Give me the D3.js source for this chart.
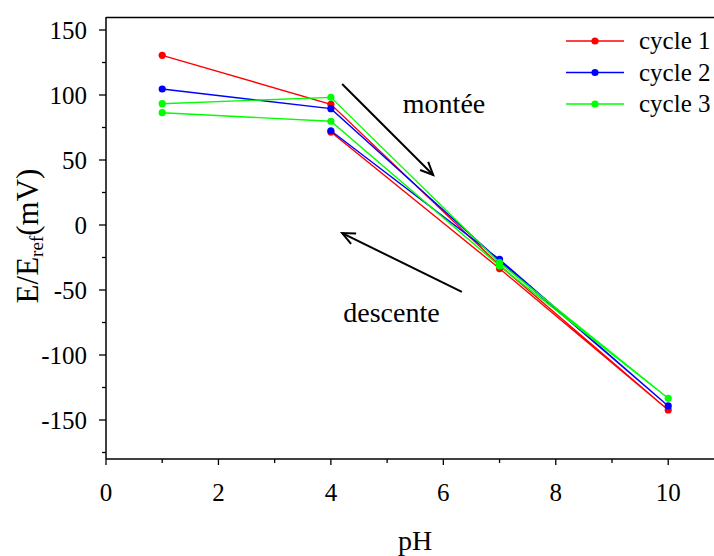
<!DOCTYPE html>
<html><head><meta charset="utf-8">
<script src="https://cdn.jsdelivr.net/npm/d3@7"></script>
<style>
html,body{margin:0;padding:0;background:#fff;}
</style></head>
<body>
<svg id="c" width="714" height="556"></svg>
<script>
// ---- data ----
const seriesNames = ["cycle 1", "cycle 2", "cycle 3"];
const seriesColors = ["#ff0000", "#0000ff", "#00ff00"];
// measurement path: pH up then back down
const cycle1_pH = [1, 4, 7, 10, 7, 4];
const cycle1_E  = [130.5, 92.8, -31, -142.3, -33.5, 71.5];
const cycle2_pH = [1, 4, 7, 10, 7, 4];
const cycle2_E  = [104.6, 89.5, -27.5, -139.2, -26.5, 72.5];
const cycle3_pH = [1, 4, 7, 10, 7, 4, 1];
const cycle3_E  = [93.3, 98.2, -29, -133.3, -31.5, 79.8, 86.4];
const xTickLabels = [0, 2, 4, 6, 8, 10];
const yTickLabels = [-150, -100, -50, 0, 50, 100, 150];
// annotation arrows in data units [x1,y1,x2,y2]
const arrowMontee = [4.2, 108.5, 5.82, 38.5];
const arrowDescente = [6.33, -51.5, 4.2, -6.2];
const labelMontee = [5.28, 86, "montée"];
const labelDescente = [4.22, -74.4, "descente"];

const FONT = "'Liberation Serif', 'Times New Roman', Times, serif";

const series = seriesNames.map((n, i) => {
  const xs = [cycle1_pH, cycle2_pH, cycle3_pH][i];
  const ys = [cycle1_E, cycle2_E, cycle3_E][i];
  return {name: n, color: seriesColors[i], pts: xs.map((x, j) => [x, ys[j]])};
});

const svg = d3.select("#c").attr("font-family", FONT);
const L = 106, T = 17, B = 459, R = 716;
const x = d3.scaleLinear().domain([0, 10.85]).range([L, R]);
const y = d3.scaleLinear().domain([-180, 160]).range([B, T]);

// frame top
svg.append("line").attr("x1", L).attr("x2", R).attr("y1", T + 0.5).attr("y2", T + 0.5)
  .attr("stroke", "#000").attr("stroke-width", 1.5);

// y axis
const yMinor = d3.range(-175, 160, 25);
const yAx = svg.append("g").attr("transform", `translate(${L},0)`);
yAx.append("line").attr("x1", 0).attr("x2", 0).attr("y1", T).attr("y2", B)
  .attr("stroke", "#000").attr("stroke-width", 1.5);
yAx.selectAll("line.t").data(yMinor).join("line").attr("class", "t")
  .attr("x1", d => yTickLabels.includes(d) ? -7 : -4).attr("x2", 0)
  .attr("y1", d => y(d)).attr("y2", d => y(d))
  .attr("stroke", "#000").attr("stroke-width", 1.3);
yAx.selectAll("text").data(yTickLabels).join("text")
  .attr("x", -19).attr("y", d => y(d) + 8.5)
  .attr("text-anchor", "end").attr("font-size", 25).text(d => d);

// x axis
const xAx = svg.append("g").attr("transform", `translate(0,${B})`);
xAx.append("line").attr("x1", L).attr("x2", R).attr("y1", 0).attr("y2", 0)
  .attr("stroke", "#000").attr("stroke-width", 1.5);
xAx.selectAll("line.t").data(d3.range(0, 11, 1)).join("line").attr("class", "t")
  .attr("x1", d => x(d)).attr("x2", d => x(d))
  .attr("y1", 0).attr("y2", d => d % 2 === 0 ? 6 : 4)
  .attr("stroke", "#000").attr("stroke-width", 1.3);
xAx.selectAll("text").data(xTickLabels).join("text")
  .attr("x", d => x(d)).attr("y", 42)
  .attr("text-anchor", "middle").attr("font-size", 25).text(d => d);

// axis titles
svg.append("text").attr("x", 415).attr("y", 550).attr("text-anchor", "middle")
  .attr("font-size", 28).text("pH");
const yt = svg.append("text").attr("transform", "translate(38,236) rotate(-90)")
  .attr("text-anchor", "middle").attr("font-size", 31);
yt.append("tspan").text("E/E");
yt.append("tspan").attr("font-size", 19).attr("dy", 5).text("ref");
yt.append("tspan").attr("dy", -5).text("(mV)");

// series
const line = d3.line().x(d => x(d[0])).y(d => y(d[1]));
series.forEach(s => {
  const g = svg.append("g");
  g.append("path").attr("d", line(s.pts)).attr("fill", "none")
    .attr("stroke", s.color).attr("stroke-width", 1.4);
  g.selectAll("circle").data(s.pts).join("circle")
    .attr("cx", d => x(d[0])).attr("cy", d => y(d[1])).attr("r", 3.6)
    .attr("fill", s.color);
});

// arrows
function arrow(a) {
  const x1 = x(a[0]), y1 = y(a[1]), x2 = x(a[2]), y2 = y(a[3]);
  const ang = Math.atan2(y2 - y1, x2 - x1), len = 14, spread = 0.42;
  const g = svg.append("g").attr("stroke", "#000").attr("stroke-width", 2).attr("fill", "none");
  g.append("line").attr("x1", x1).attr("y1", y1).attr("x2", x2).attr("y2", y2);
  g.append("path").attr("d",
    `M${x2 - len * Math.cos(ang - spread)},${y2 - len * Math.sin(ang - spread)}L${x2},${y2}L${x2 - len * Math.cos(ang + spread)},${y2 - len * Math.sin(ang + spread)}`);
}
arrow(arrowMontee);
arrow(arrowDescente);
svg.append("text").attr("x", x(labelMontee[0])).attr("y", y(labelMontee[1]))
  .attr("font-size", 28).text(labelMontee[2]);
svg.append("text").attr("x", x(labelDescente[0])).attr("y", y(labelDescente[1]))
  .attr("font-size", 28).text(labelDescente[2]);

// legend
const leg = svg.append("g");
series.forEach((s, i) => {
  const ly = 41 + i * 31.5;
  leg.append("line").attr("x1", 566).attr("x2", 624).attr("y1", ly).attr("y2", ly)
    .attr("stroke", s.color).attr("stroke-width", 1.4);
  leg.append("circle").attr("cx", 595).attr("cy", ly).attr("r", 3.6).attr("fill", s.color);
  leg.append("text").attr("x", 639).attr("y", ly + 8).attr("font-size", 25).text(s.name);
});
</script>
</body></html>
